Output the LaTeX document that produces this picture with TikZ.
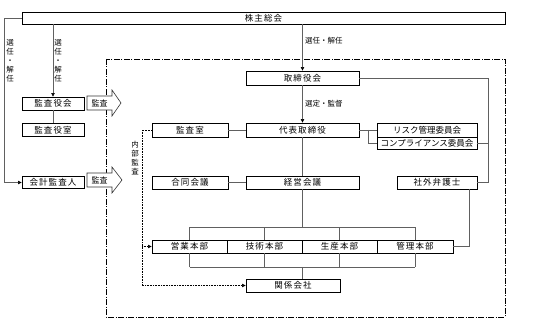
\documentclass[tikz,border=0pt]{standalone}
\usepackage{fontspec}
\setmainfont{Noto Sans CJK JP}
\usetikzlibrary{arrows.meta,positioning,calc}

\begin{document}
\begin{tikzpicture}[x=1pt, y=-1pt,
  box/.style={rectangle, draw=black, line width=0.9pt, fill=white, inner sep=0pt, minimum height=13pt, font=\fontsize{8.5}{9}\selectfont\addfontfeature{LetterSpace=12}},
  katabox/.style={box, font=\fontsize{8.5}{9}\selectfont},
  link/.style={draw=gray!75!black, line width=0.6pt},
  edge/.style={link, -{Triangle[length=3.5pt, width=3.5pt, color=black]}},
  audit/.style={draw=black, line width=0.6pt, densely dotted, -{Triangle[length=3.5pt, width=3.5pt]}},
  tag/.style={inner sep=0pt, font=\fontsize{7.5}{9}\selectfont},
  vtag/.style={tag, align=center},
  bigarrow/.style={draw=black!80, line width=0.6pt, fill=white},
  frame/.style={draw=black, line width=0.8pt, dash pattern=on 6pt off 1.5pt on 1pt off 1.5pt}
]
\useasboundingbox (0,0) rectangle (533,331);

% Outer frame
\draw[frame] (106,59) rectangle (505,317);

% Shareholders and auditors
\node[box, minimum width=483pt, minimum height=12pt] (soukai) at (263.5,18) {株主総会};
\node[box, minimum width=62pt] (kansayakukai) at (53,103.5) {監査役会};
\node[box, minimum width=62pt] (kansayakushitsu) at (53,130) {監査役室};
\node[box, minimum width=62pt, minimum height=12pt] (kaikei) at (53,182.5) {会計監査人};

% Board and executives
\node[box, minimum width=113pt, minimum height=14pt] (torishimari) at (302.5,78) {取締役会};
\node[box, minimum width=113pt, minimum height=14pt] (daihyo) at (302.5,130) {代表取締役};
\node[box, minimum width=76pt, minimum height=14pt] (kansashitsu) at (190,130) {監査室};
\node[box, minimum width=76pt] (godo) at (190,182.5) {合同会議};
\node[box, minimum width=113pt] (keiei) at (302.5,182.5) {経営会議};
\node[katabox, minimum width=100pt, minimum height=14pt] (risk) at (427,130) {リスク管理委員会};
\node[katabox, minimum width=100pt, minimum height=12pt] (comp) at (427,143) {コンプライアンス委員会};
\node[box, minimum width=80pt] (bengoshi) at (437,182.5) {社外弁護士};

% Divisions
\node[box, minimum width=75pt] (eigyo) at (189.5,246.5) {営業本部};
\node[box, minimum width=75pt] (gijutsu) at (264.5,246.5) {技術本部};
\node[box, minimum width=75pt] (seisan) at (339.5,246.5) {生産本部};
\node[box, minimum width=76pt] (kanri) at (415,246.5) {管理本部};
\node[box, minimum width=94pt] (kankei) at (293,285.5) {関係会社};

% Audit arrows
\draw[bigarrow] (87,96) -- (112,96) -- (112,90) -- (121,103) -- (112,116) -- (112,110) -- (87,110) -- cycle;
\node[tag, font=\fontsize{8}{9}\selectfont] (kansa1) at (99.5,103) {監査};
\draw[bigarrow] (87,173) -- (112,173) -- (112,167) -- (122,180) -- (112,193) -- (112,187) -- (87,187) -- cycle;
\node[tag, font=\fontsize{8}{9}\selectfont] (kansa2) at (99.5,180) {監査};

% Election lines
\coordinate (leftrail) at (4,18);
\draw[edge] (soukai.west) -- (leftrail) |- (kaikei.west);
\node[vtag] (sennin1) at (10,61) {選\\任\\・\\解\\任};
\draw[edge] (kansayakukai.north |- soukai.south) -- (kansayakukai.north);
\node[vtag] (sennin2) at (58,61) {選\\任\\・\\解\\任};
\draw[link] (kansayakukai.south) -- (kansayakushitsu.north);
\draw[edge] (torishimari.north |- soukai.south) -- (torishimari.north);
\node[tag, anchor=west] (sennin3) at (305,41) {選任・解任};
\draw[edge] (torishimari.south) -- (daihyo.north);
\node[tag, anchor=west] (sentei) at (305,104) {選定・監督};

% Board side links
\coordinate (rrail) at (488,78);
\draw[link] (torishimari.east) -- (rrail) |- (bengoshi.east);
\draw[link] (comp.east) -- (comp.east -| rrail);
\coordinate (cjoint) at (368,130);
\draw[link] (daihyo.east) -- (risk.west);
\draw[link] (cjoint) |- (comp.west);
\draw[link] (kansashitsu.east) -- (daihyo.west);
\draw[link] (godo.east) -- (keiei.west);
\draw[link] (daihyo.south) -- (keiei.north);

% Division bus
\coordinate (bustop) at (302.5,227);
\coordinate (busbot) at (302.5,267);
\draw[link] (keiei.south) -- (bustop);
\draw[link] (eigyo.north |- bustop) -- (kanri.north |- bustop);
\draw[link] (eigyo.south |- busbot) -- (kanri.south |- busbot);
\foreach \d in {eigyo,gijutsu,seisan,kanri} {
  \draw[link] (\d.north) -- (\d.north |- bustop);
  \draw[link] (\d.south) -- (\d.south |- busbot);
}
\draw[link] (busbot) -- (busbot |- kankei.north);
\draw[link] ([xshift=32pt]bengoshi.south) |- (kanri.east);

% Internal audit
\coordinate (auditrail) at (142,130);
\draw[audit] (kansashitsu.west) -- (auditrail) |- (kankei.west);
\draw[audit] (auditrail |- eigyo.west) -- (eigyo.west);
\node[vtag] (naibu) at (135,158) {内\\部\\監\\査};

\end{tikzpicture}
\end{document}
